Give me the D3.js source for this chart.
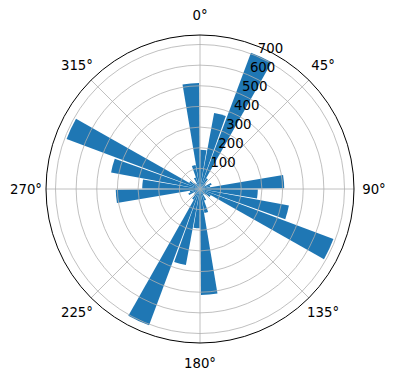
<!DOCTYPE html>
<html>
<head>
<meta charset="utf-8">
<script src="https://cdn.jsdelivr.net/npm/d3@7"></script>
<style>
html,body{margin:0;padding:0;background:#fff;}
svg{display:block;}
text{font-family:"DejaVu Sans",sans-serif;font-size:13.3px;fill:#000;}
</style>
</head>
<body>
<svg id="chart" width="396" height="380"></svg>
<script>
// bar centre directions (degrees, clockwise from north)
const directions = [5,15,25,35,45,55,65,75,85,95,105,115,125,135,145,155,165,175,
                    185,195,205,215,225,235,245,255,265,275,285,295,305,315,325,335,345,355];
// bar lengths
const counts = [190,375,705,60,40,30,60,50,408,280,438,690,60,40,30,60,118,513,
                190,375,705,60,40,30,60,50,408,280,438,690,60,40,30,60,118,513];
const barWidthDeg = 9;
const radialTicks = [100,200,300,400,500,600,700];
const angleTicks = [0,45,90,135,180,225,270,315];
const rMax = 746;

const svg = d3.select("#chart");
const cx = 200, cy = 189, R = 154;
const g = svg.append("g").attr("transform", `translate(${cx},${cy})`);
const r = d3.scaleLinear().domain([0, rMax]).range([0, R]);
const rad = d => d * Math.PI / 180;

// bars
const arc = d3.arc().innerRadius(0);
g.selectAll("path.bar").data(directions.map((d, i) => ({dir: d, v: counts[i]})))
  .join("path").attr("class", "bar")
  .attr("d", d => arc({outerRadius: r(d.v), startAngle: rad(d.dir - barWidthDeg / 2), endAngle: rad(d.dir + barWidthDeg / 2)}))
  .attr("fill", "#1f77b4");

// grid circles
g.selectAll("circle.grid").data(radialTicks).join("circle").attr("class", "grid")
  .attr("r", d => r(d)).attr("fill", "none").attr("stroke", "#b0b0b0").attr("stroke-width", 0.8);
// radial grid lines
g.selectAll("line.grid").data(angleTicks).join("line").attr("class", "grid")
  .attr("x1", 0).attr("y1", 0)
  .attr("x2", d => R * Math.sin(rad(d))).attr("y2", d => -R * Math.cos(rad(d)))
  .attr("stroke", "#b0b0b0").attr("stroke-width", 0.8);
// outer spine
g.append("circle").attr("r", R).attr("fill", "none").attr("stroke", "#000").attr("stroke-width", 1);

// angle labels
const labR = 174;
g.selectAll("text.ang").data(angleTicks).join("text").attr("class", "ang")
  .attr("x", d => labR * Math.sin(rad(d))).attr("y", d => -labR * Math.cos(rad(d)))
  .attr("text-anchor", "middle").attr("dominant-baseline", "central")
  .text(d => d + "°");

// radial labels at 22.5°
const la = rad(22.5);
g.selectAll("text.rl").data(radialTicks).join("text").attr("class", "rl")
  .attr("x", d => r(d) * Math.sin(la) + 2.5).attr("y", d => -r(d) * Math.cos(la) - 2.5)
  .attr("text-anchor", "start")
  .text(d => d);
</script>
</body>
</html>
